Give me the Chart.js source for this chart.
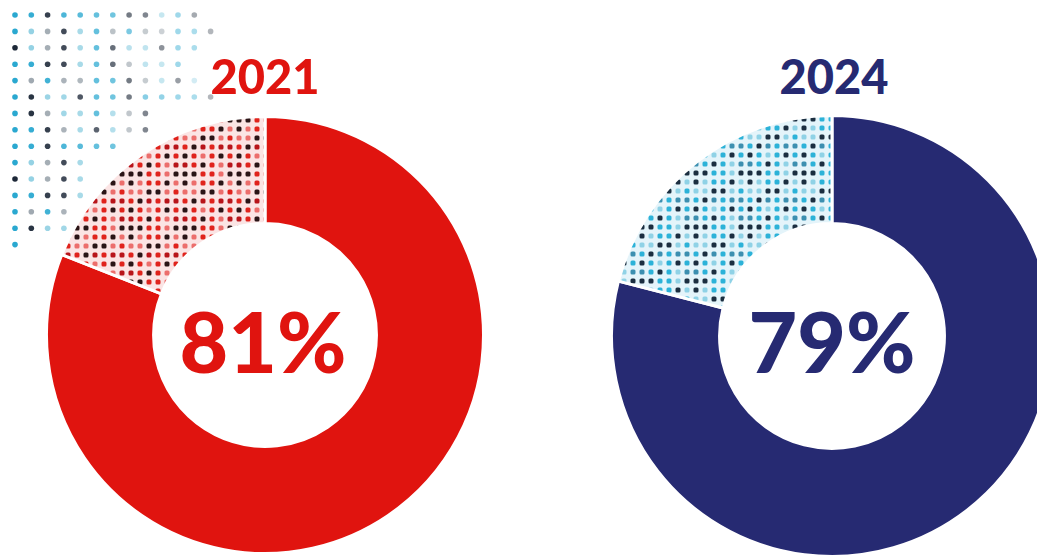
<!DOCTYPE html>
<html>
<head>
<meta charset="utf-8">
<script src="https://cdn.jsdelivr.net/npm/chart.js@4.4.1/dist/chart.umd.min.js"></script>
<style>
  html, body { margin: 0; padding: 0; width: 1037px; height: 556px; overflow: hidden; background: #fff; }
  #deco { position: absolute; left: 0; top: 0; }
  .box { position: absolute; }
  .title { position: absolute; width: 300px; text-align: center; font-family: Lato, "DejaVu Sans", sans-serif; font-weight: 900; font-size: 47px; line-height: 1; }
  .center { position: absolute; width: 300px; text-align: center; font-family: Lato, "DejaVu Sans", sans-serif; font-weight: 900; font-size: 84px; line-height: 1; }
</style>
</head>
<body>
<canvas id="deco" width="260" height="260"></canvas>
<div class="box" id="b0" style="left:45px; top:115px; width:440px; height:440px;"><canvas id="c0"></canvas></div>
<div class="box" id="b1" style="left:610px; top:114px; width:444px; height:444px;"><canvas id="c1"></canvas></div>
<div class="title" id="t0" style="left:115px; top:53px;"></div>
<div class="title" id="t1" style="left:684px; top:53px;"></div>
<div class="center" id="m0" style="left:113px; top:299px;"></div>
<div class="center" id="m1" style="left:682px; top:299px;"></div>
<script>
// ---- data ----
const years = ['2021', '2024'];
const shareValues = [81, 79];
const restValues = [19, 21];
const sliceLabels = ['Share', 'Rest'];

// ---- styles ----
const mainColors = ['#e0140f', '#262a72'];
const dotPalettes = [
  { bg: '#fbe4e4', dots: ['#e0231c', '#2a1416', '#ec6e6c', '#b8141a'] },
  { bg: '#e4f4fa', dots: ['#2cb2d8', '#1b2e40', '#8fd2e6', '#3c8fb0'] }
];
const dotSeq = '0120301220130210320101231002130231203102';

function makePattern(pal) {
  const step = 9, n = 6;
  const c = document.createElement('canvas');
  c.width = step * n; c.height = step * n;
  const g = c.getContext('2d');
  g.fillStyle = pal.bg;
  g.fillRect(0, 0, c.width, c.height);
  let k = 0;
  for (let r = 0; r < n; r++) {
    for (let q = 0; q < n; q++) {
      g.fillStyle = pal.dots[+dotSeq[(k * 7 + r) % dotSeq.length]];
      g.beginPath();
      g.roundRect(q * step + 2.5, r * step + 2.5, 5, 5, 1.5);
      g.fill();
      k++;
    }
  }
  return document.getElementById('deco').getContext('2d').createPattern(c, 'repeat');
}

// ---- decorative dot grid (top-left) ----
(function () {
  const g = document.getElementById('deco').getContext('2d');
  const cols = ['#2aa8d0', '#1d2838', '#8fcfe2', '#9aa4ac'];
  const rowLen = [12, 13, 12, 11, 12, 13, 9, 9, 7, 5, 5, 5, 4, 4, 1];
  for (let r = 0; r < rowLen.length; r++) {
    for (let q = 0; q < rowLen[r]; q++) {
      const x = 15 + q * 16.3, y = 15 + r * 16.4;
      const idx = +dotSeq[(r * 5 + q * 3) % dotSeq.length];
      g.globalAlpha = Math.max(0.3, 1 - q * 0.055);
      g.fillStyle = cols[idx];
      g.beginPath();
      g.arc(x, y, 2.8, 0, Math.PI * 2);
      g.fill();
    }
  }
  g.globalAlpha = 1;
})();

// ---- charts ----
years.forEach((yr, i) => {
  document.getElementById('t' + i).textContent = yr;
  document.getElementById('t' + i).style.color = mainColors[i];
  document.getElementById('m' + i).textContent = shareValues[i] + '%';
  document.getElementById('m' + i).style.color = mainColors[i];
  new Chart(document.getElementById('c' + i), {
    type: 'doughnut',
    data: {
      labels: sliceLabels,
      datasets: [{
        data: [shareValues[i], restValues[i]],
        backgroundColor: [mainColors[i], makePattern(dotPalettes[i])],
        borderColor: '#ffffff',
        borderWidth: 3
      }]
    },
    options: {
      responsive: true,
      maintainAspectRatio: false,
      animation: false,
      cutout: '51%',
      layout: { padding: 0 },
      plugins: { legend: { display: false }, tooltip: { enabled: false } }
    }
  });
});
</script>
</body>
</html>
